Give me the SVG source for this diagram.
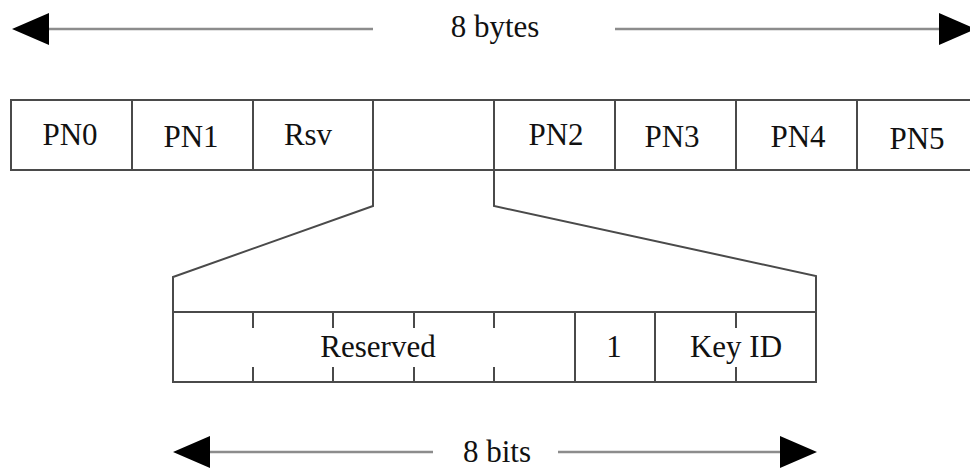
<svg xmlns="http://www.w3.org/2000/svg" width="970" height="468" viewBox="0 0 970 468">
<style>
.box{fill:none;stroke:#4a4a4a;stroke-width:2}
.ln{fill:none;stroke:#4a4a4a;stroke-width:2;stroke-linejoin:miter}
.shaft{stroke:#8c8c8c;stroke-width:2.5;fill:none}
.head{fill:#000}
text{font-family:"Liberation Serif","Times New Roman",serif;font-size:31px;fill:#111;text-anchor:middle}
</style>
<rect width="970" height="468" fill="#fff"/>
<g id="top-row">
  <rect class="box" x="11" y="100" width="968" height="70"/>
  <path class="ln" d="M132 100V170M253 100V170M373 100V170M494 100V170M615 100V170M736 100V170M857 100V170"/>
</g>
<g id="pn0"><text x="70" y="145">PN0</text></g>
<g id="pn1"><text x="191" y="147">PN1</text></g>
<g id="rsv"><text x="308" y="145">Rsv</text></g>
<g id="pn2"><text x="556" y="145">PN2</text></g>
<g id="pn3"><text x="672" y="147">PN3</text></g>
<g id="pn4"><text x="798" y="147">PN4</text></g>
<g id="pn5"><text x="917" y="149">PN5</text></g>
<g id="bits-box">
  <rect class="box" x="173" y="312" width="643" height="70"/>
  <path class="ln" d="M575 312V382M655 312V382"/>
  <path class="ln" d="M253 312V328M253 367V382M333 312V328M333 367V382M414 312V328M414 367V382M494 312V328M494 367V382M736 312V328M736 367V382"/>
  <text x="378" y="357">Reserved</text>
  <text x="614" y="357">1</text>
  <text x="736" y="357">Key ID</text>
</g>
<g id="connectors">
  <path class="ln" d="M373 170V206L173 277V312"/>
  <path class="ln" d="M494 170V206L816 276V312"/>
</g>
<g id="bytes-dim">
  <path class="shaft" d="M49 29H373M615 29H940"/>
  <polygon class="head" points="12,29 49,13 49,45"/>
  <polygon class="head" points="976,29 939,13 939,45"/>
  <text x="495" y="37">8 bytes</text>
</g>
<g id="bits-dim">
  <path class="shaft" d="M210 452H433M558 452H780"/>
  <polygon class="head" points="173,452 210,436 210,468"/>
  <polygon class="head" points="817,452 780,436 780,468"/>
  <text x="497" y="462">8 bits</text>
</g>
</svg>
